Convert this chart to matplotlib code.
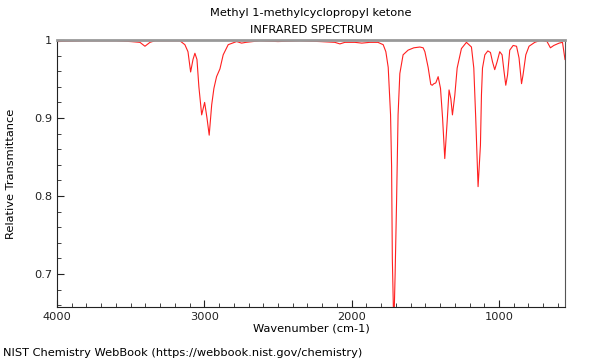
import matplotlib
matplotlib.use("Agg")
import matplotlib.pyplot as plt
from matplotlib.ticker import MultipleLocator, FuncFormatter

title_line1 = "Methyl 1-methylcyclopropyl ketone"
title_line2 = "INFRARED SPECTRUM"
xlabel = "Wavenumber (cm-1)"
ylabel = "Relative Transmittance"
footer = "NIST Chemistry WebBook (https://webbook.nist.gov/chemistry)"

wavenumber = [4000, 3800, 3600, 3500, 3437, 3403, 3369, 3335, 3250, 3166,
              3132, 3111, 3093, 3077, 3064, 3050, 3037, 3018, 2998, 2982,
              2967, 2950, 2935, 2917, 2894, 2872, 2838, 2781, 2747, 2718,
              2623, 2500, 2351, 2216, 2114, 2080, 2046, 1978, 1931, 1877,
              1822, 1786, 1768, 1752, 1736, 1729, 1724, 1714, 1705, 1695,
              1685, 1673, 1651, 1617, 1578, 1537, 1515, 1503, 1481, 1463,
              1453, 1442, 1429, 1413, 1397, 1383, 1368, 1352, 1339, 1327,
              1316, 1300, 1284, 1255, 1221, 1187, 1171, 1158, 1142, 1126,
              1119, 1112, 1096, 1076, 1058, 1044, 1029, 1013, 995, 979,
              966, 954, 942, 927, 904, 881, 864, 847, 837, 818,
              796, 757, 712, 674, 651, 628, 592, 569, 552]
transmittance = [0.998, 0.999, 0.999, 0.998, 0.997, 0.992, 0.997, 0.999, 0.999, 0.999,
                 0.994, 0.985, 0.959, 0.975, 0.983, 0.975, 0.940, 0.904, 0.920, 0.900,
                 0.878, 0.917, 0.938, 0.953, 0.963, 0.981, 0.994, 0.998, 0.996, 0.997,
                 0.999, 0.998, 0.999, 0.998, 0.997, 0.995, 0.997, 0.997, 0.996, 0.997,
                 0.997, 0.994, 0.985, 0.965, 0.904, 0.838, 0.720, 0.630, 0.700, 0.795,
                 0.904, 0.957, 0.981, 0.987, 0.990, 0.991, 0.990, 0.985, 0.965, 0.943,
                 0.942, 0.944, 0.945, 0.953, 0.938, 0.900, 0.848, 0.895, 0.936, 0.925,
                 0.904, 0.929, 0.964, 0.989, 0.997, 0.991, 0.964, 0.900, 0.812, 0.865,
                 0.930, 0.964, 0.981, 0.986, 0.984, 0.972, 0.962, 0.972, 0.985, 0.981,
                 0.960, 0.942, 0.955, 0.987, 0.993, 0.992, 0.977, 0.944, 0.955, 0.981,
                 0.992, 0.997, 1.000, 0.998, 0.990, 0.993, 0.996, 0.997, 0.975]

yticks = [0.7, 0.8, 0.9, 1.0]
xticks = [4000, 3000, 2000, 1000]

fs = 8.2
fig = plt.figure(figsize=(6, 3.6), dpi=100)
ax = fig.add_axes([57/600, 1-307/360, (565-57)/600, (307-40)/360])
ax.plot(wavenumber, transmittance, color="#ff2020", lw=0.8)
ax.set_xlim(4000, 552)
ax.set_ylim(0.6577, 1.0)
ax.set_xticks(xticks)
ax.set_yticks(yticks)
ax.xaxis.set_minor_locator(MultipleLocator(100))
ax.yaxis.set_minor_locator(MultipleLocator(0.02))
ax.yaxis.set_major_formatter(FuncFormatter(lambda v, p: f"{v:g}"))
ax.tick_params(which="both", direction="in", top=False, right=False, labelsize=fs, colors="#222222")
ax.tick_params(which="major", length=5)
ax.tick_params(which="minor", length=3)
ax.spines["top"].set_color("#999999")
ax.spines["top"].set_linewidth(2)
ax.spines["right"].set_color("#555555")
ax.spines["left"].set_color("#222222")
ax.spines["bottom"].set_color("#222222")
ax.set_xlabel(xlabel, fontsize=fs, labelpad=1)
ax.set_ylabel(ylabel, fontsize=fs)
ax.yaxis.set_label_coords((16-57)/508, 0.5)
fig.text(311/600, 1-13/360, title_line1, ha="center", va="center", fontsize=fs)
fig.text(311/600, 1-30/360, title_line2, ha="center", va="center", fontsize=fs)
fig.text(3/600, 1-353/360, footer, ha="left", va="center", fontsize=fs)
fig.savefig("out.png", dpi=100)
